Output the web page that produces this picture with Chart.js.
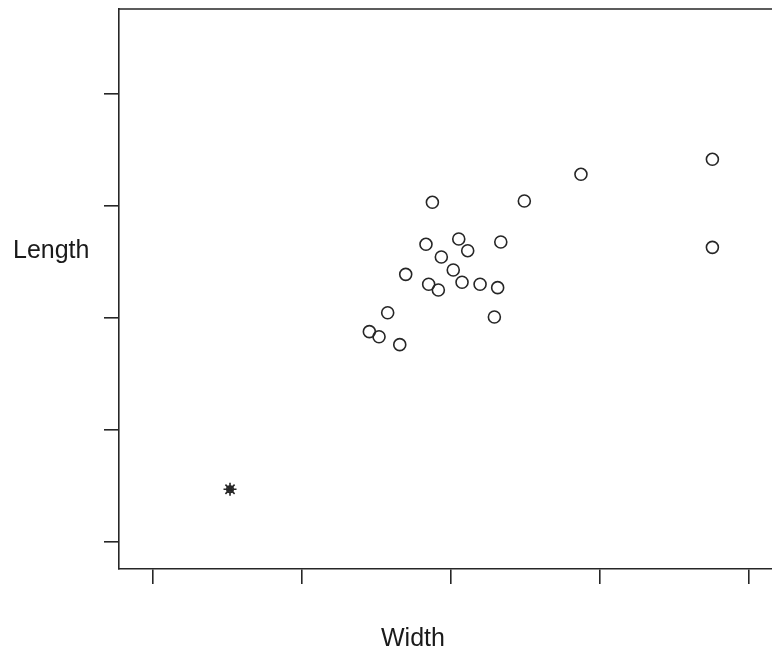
<!DOCTYPE html>
<html>
<head>
<meta charset="utf-8">
<script src="https://cdn.jsdelivr.net/npm/chart.js@4"></script>
<style>
  body { margin: 0; background: #fff; overflow: hidden; }
</style>
</head>
<body>
<canvas id="myChart" width="772" height="654"></canvas>
<script>
// data, in axis units (tick values below, no labels shown on the plot)
const widthVals = [2.875, 3.492, 2.832, 3.052, 3.112, 3.334, 2.935, 3.015, 2.696, 2.850, 2.915,
    3.074, 3.195, 3.313, 2.575, 3.291, 2.452, 2.517, 2.656, 3.872, 4.754, 4.754];
const lengthVals = [4.033, 4.045, 3.658, 3.705, 3.601, 3.679, 3.545, 3.429, 3.390, 3.301, 3.250,
    3.319, 3.301, 3.271, 3.047, 3.009, 2.878, 2.833, 2.762, 4.283, 4.417, 3.631];
// the marked point (star over small circle)
const outlierWidth = [1.517];
const outlierLength = [1.471];

const xTicks = [1, 2, 3, 4, 5];
const yTicks = [1, 2, 3, 4, 5];
const xLabel = 'Width';
const yLabel = 'Length';

const ink = '#262626';

function toPoints(xs, ys) {
    return xs.map((x, i) => ({ x: x, y: ys[i] }));
}

// frame line on top + the two axis titles (drawn flat, like base R)
const framePlugin = {
    id: 'frame',
    afterDraw(chart) {
        const ctx = chart.ctx;
        const a = chart.chartArea;
        ctx.save();
        ctx.strokeStyle = ink;
        ctx.lineWidth = 1.6;
        ctx.beginPath();
        ctx.moveTo(a.left, a.top);
        ctx.lineTo(a.right + 2, a.top);
        ctx.stroke();

        ctx.fillStyle = '#1a1a1a';
        ctx.font = '25px "Liberation Sans", Arial, sans-serif';
        ctx.textBaseline = 'alphabetic';
        ctx.fillText(yLabel, 13, 258);
        ctx.fillText(xLabel, 381, 646);
        ctx.restore();
    }
};

const axisCommon = {
    type: 'linear',
    ticks: { display: false },
    grid: {
        display: true,
        drawOnChartArea: false,
        drawTicks: true,
        tickLength: 15,
        color: ink,
        lineWidth: 1.6,
    },
    border: { display: true, color: ink, width: 1.6 },
};

const config = {
    type: 'scatter',
    data: {
        datasets: [
            {
                data: toPoints(widthVals, lengthVals),
                pointStyle: 'circle',
                pointRadius: 6,
                pointBorderWidth: 1.6,
                borderColor: ink,
                backgroundColor: 'rgba(0,0,0,0)',
            },
            {
                data: toPoints(outlierWidth, outlierLength),
                pointStyle: 'circle',
                pointRadius: 3.2,
                pointBorderWidth: 1.6,
                borderColor: ink,
                backgroundColor: 'rgba(0,0,0,0)',
            },
            {
                data: toPoints(outlierWidth, outlierLength),
                pointStyle: 'star',
                pointRadius: 6.5,
                pointBorderWidth: 1.6,
                borderColor: ink,
                backgroundColor: 'rgba(0,0,0,0)',
            },
        ]
    },
    options: {
        responsive: false,
        animation: false,
        events: [],
        layout: { autoPadding: false, padding: { top: 9, left: 0, right: 0, bottom: 0 } },
        plugins: {
            legend: { display: false },
            tooltip: { enabled: false },
        },
        scales: {
            x: {
                ...axisCommon,
                position: 'bottom',
                min: 0.772,
                max: 5.154,
                afterBuildTicks: s => { s.ticks = xTicks.map(v => ({ value: v })); },
                afterFit: s => { s.height = 85; },
            },
            y: {
                ...axisCommon,
                position: 'left',
                min: 0.759,
                max: 5.759,
                afterBuildTicks: s => { s.ticks = yTicks.map(v => ({ value: v })); },
                afterFit: s => { s.width = 119; },
            },
        }
    },
    plugins: [framePlugin]
};

const ctx = document.getElementById('myChart');
const myChart = new Chart(ctx, config);
</script>
</body>
</html>
